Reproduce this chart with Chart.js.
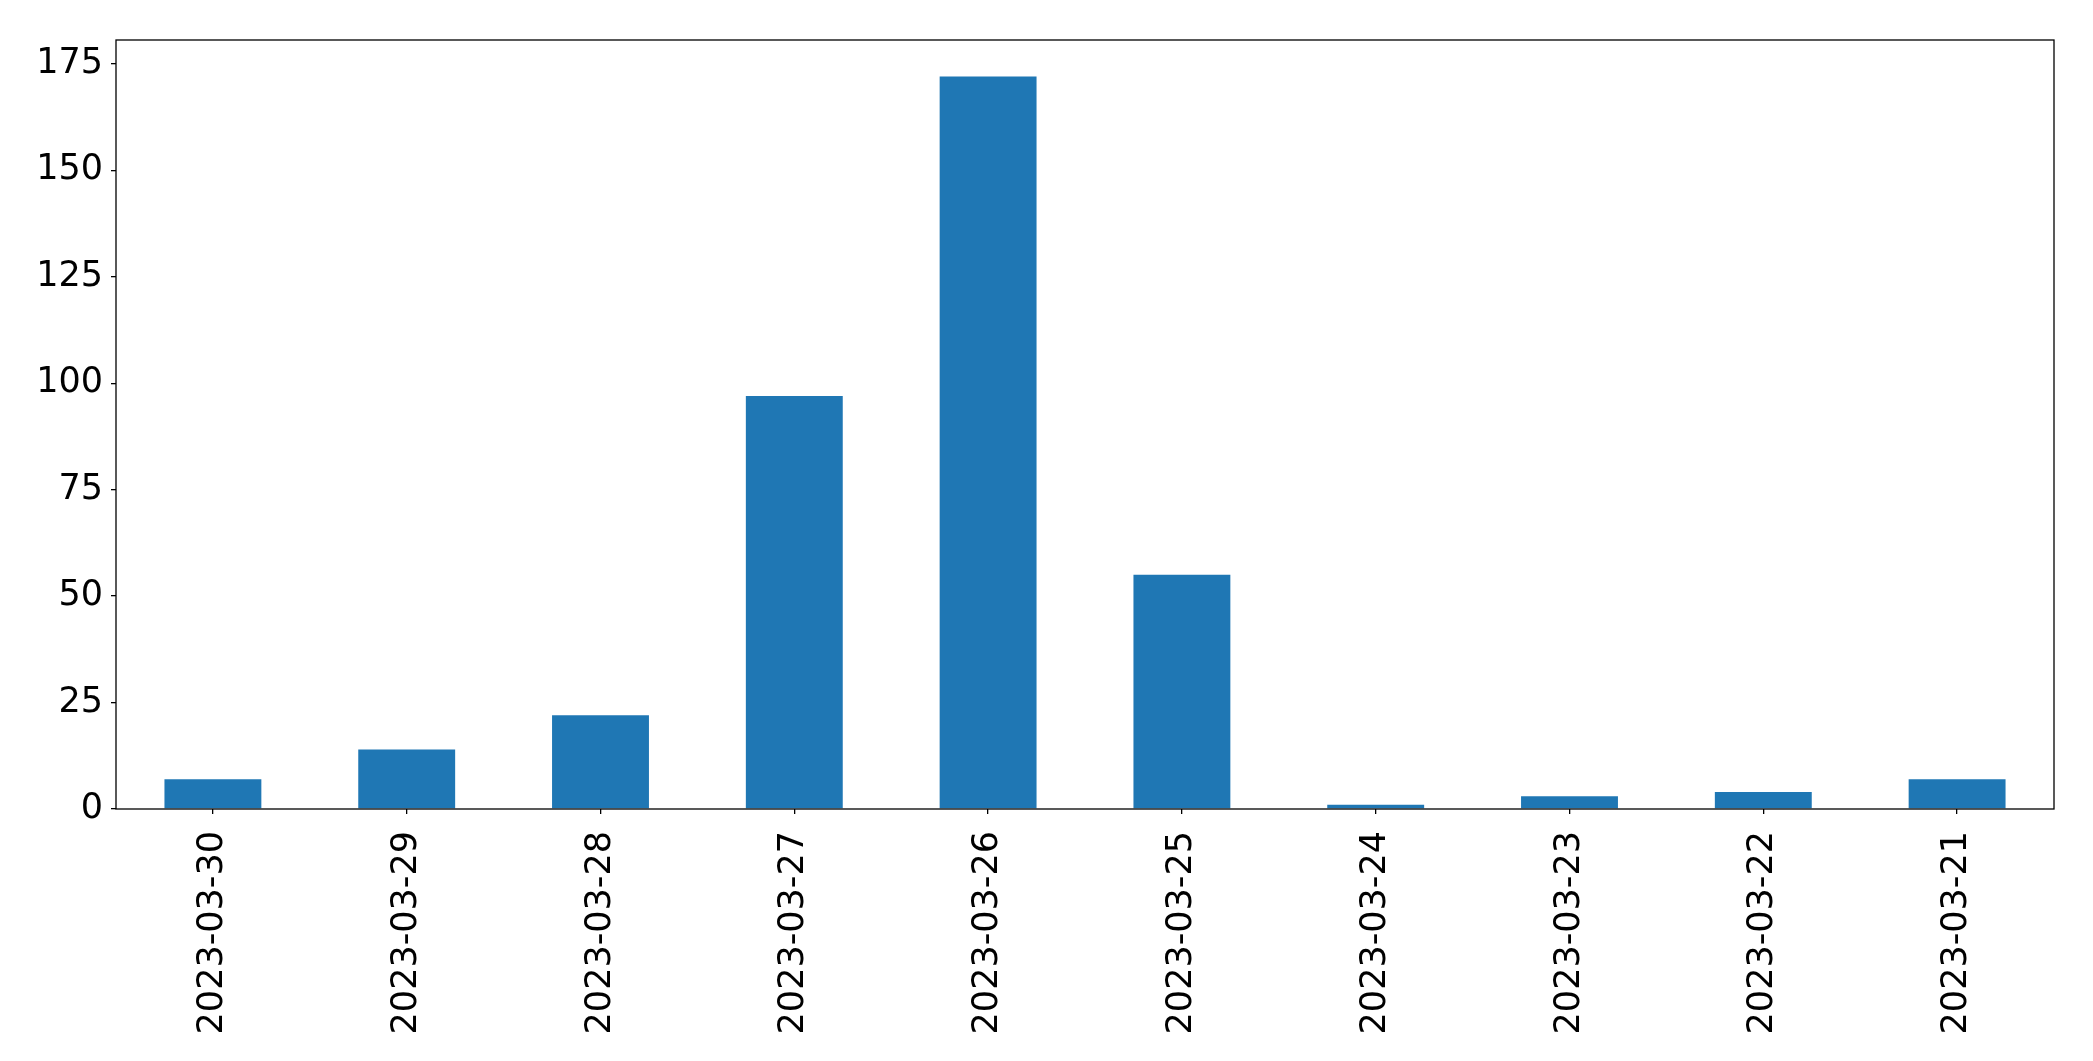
<!DOCTYPE html>
<html>
<head>
<meta charset="utf-8">
<script src="https://cdn.jsdelivr.net/npm/chart.js@4.4.0/dist/chart.umd.min.js"></script>
<style>
  html, body { margin: 0; padding: 0; background: #fff; }
  #wrap { width: 2093px; height: 1061px; }
</style>
</head>
<body>
<div id="wrap"><canvas id="myChart" width="2093" height="1061"></canvas></div>
<script>
const dates = ['2023-03-30', '2023-03-29', '2023-03-28', '2023-03-27', '2023-03-26',
               '2023-03-25', '2023-03-24', '2023-03-23', '2023-03-22', '2023-03-21'];
const counts = [7, 14, 22, 97, 172, 55, 1, 3, 4, 7];
const yTicks = [0, 25, 50, 75, 100, 125, 150, 175];

const tickFont = { family: 'DejaVu Sans', size: 35 };

// matplotlib-style full box around the axes
const frameBox = {
  id: 'frameBox',
  afterDraw(chart) {
    const { ctx, chartArea: a } = chart;
    ctx.save();
    ctx.strokeStyle = '#000';
    ctx.lineWidth = 1.3;
    ctx.strokeRect(a.left, a.top, a.right - a.left, a.bottom - a.top);
    ctx.restore();
  },
};

new Chart(document.getElementById('myChart'), {
  type: 'bar',
  data: {
    labels: dates,
    datasets: [
      {
        data: counts,
        backgroundColor: '#1f77b4',
        borderWidth: 0,
        categoryPercentage: 1.0,
        barPercentage: 0.5,
      },
    ],
  },
  options: {
    responsive: false,
    animation: false,
    devicePixelRatio: 1,
    layout: { padding: { top: 40, right: 39, left: 0, bottom: 0 } },
    plugins: { legend: { display: false }, tooltip: { enabled: false } },
    scales: {
      x: {
        offset: true,
        grid: { display: true, offset: false, drawOnChartArea: false, drawTicks: true, tickLength: 5, color: '#000', lineWidth: 1.3 },
        border: { display: false },
        ticks: {
          color: '#000',
          font: tickFont,
          minRotation: 90,
          maxRotation: 90,
          padding: 17,
          autoSkip: false,
        },
        afterFit(scale) { scale.height = 252; },
      },
      y: {
        min: 0,
        max: 180.6,
        grid: { display: true, drawOnChartArea: false, drawTicks: true, tickLength: 5, color: '#000', lineWidth: 1.3 },
        border: { display: false },
        ticks: { color: '#000', font: tickFont, padding: 8, stepSize: 25 },
        afterBuildTicks(scale) {
          scale.ticks = yTicks.map(v => ({ value: v }));
        },
        afterFit(scale) { scale.width = 116; },
      },
    },
  },
  plugins: [frameBox],
});
</script>
</body>
</html>
